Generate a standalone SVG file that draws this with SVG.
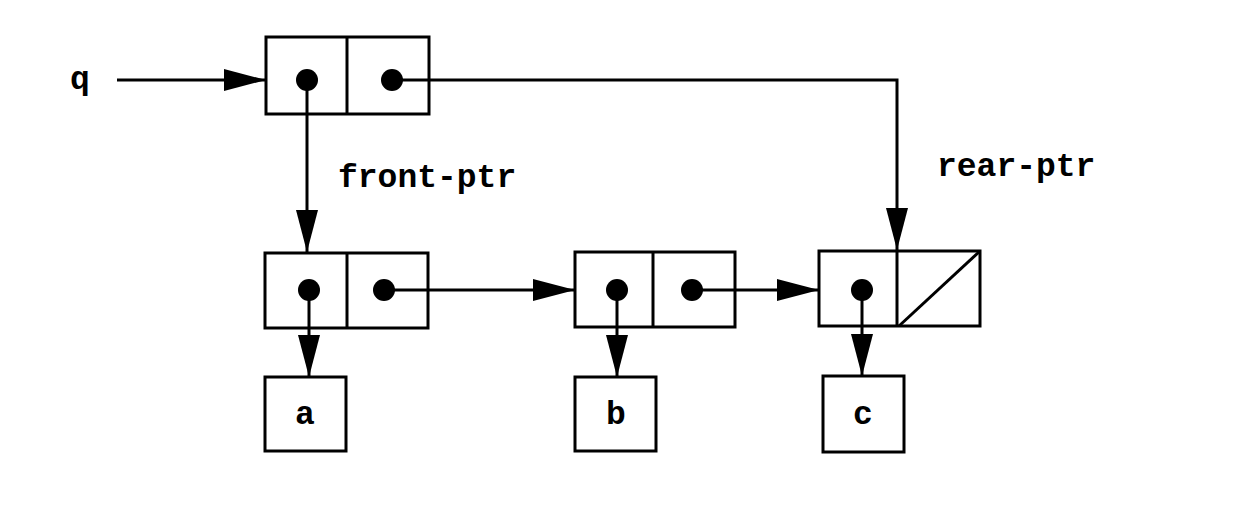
<svg xmlns="http://www.w3.org/2000/svg" width="1236" height="508" viewBox="0 0 1236 508">
<style>
.box{fill:none;stroke:#000;stroke-width:3}
.ln{fill:none;stroke:#000;stroke-width:3}
.dot{fill:#000}
.t{font-family:"Liberation Mono","Courier New",monospace;font-weight:bold;font-size:33px;fill:#000}
</style>
<defs>
<marker id="ah" markerUnits="userSpaceOnUse" markerWidth="44" markerHeight="24" refX="42" refY="11" orient="auto">
<path d="M0,0 L42,11 L0,22 z" fill="#000"/>
</marker>
</defs>
<rect width="1236" height="508" fill="#fff"/>
<g id="label-q"><text class="t" x="70" y="89">q</text></g>
<g id="pair-q">
<rect class="box" x="266" y="37" width="163" height="77"/>
<line class="ln" x1="347" y1="37" x2="347" y2="114"/>
<circle class="dot" cx="307" cy="80" r="11"/>
<circle class="dot" cx="392" cy="80" r="11"/>
</g>
<g id="pair-1">
<rect class="box" x="265" y="253" width="163" height="75"/>
<line class="ln" x1="347" y1="253" x2="347" y2="328"/>
<circle class="dot" cx="309" cy="290" r="11"/>
<circle class="dot" cx="384" cy="290" r="11"/>
</g>
<g id="pair-2">
<rect class="box" x="575" y="252" width="160" height="75"/>
<line class="ln" x1="653" y1="252" x2="653" y2="327"/>
<circle class="dot" cx="617" cy="290" r="11"/>
<circle class="dot" cx="692" cy="290" r="11"/>
</g>
<g id="pair-3">
<rect class="box" x="819" y="251" width="161" height="75"/>
<line class="ln" x1="897" y1="251" x2="897" y2="326"/>
<line class="ln" x1="899" y1="326" x2="980" y2="251"/>
<circle class="dot" cx="862" cy="290" r="11"/>
</g>
<g id="box-a"><rect class="box" x="265" y="377" width="81" height="74"/><text class="t" x="305" y="424" text-anchor="middle">a</text></g>
<g id="box-b"><rect class="box" x="575" y="377" width="81" height="74"/><text class="t" x="616" y="424" text-anchor="middle">b</text></g>
<g id="box-c"><rect class="box" x="823" y="376" width="81" height="76"/><text class="t" x="863" y="424" text-anchor="middle">c</text></g>
<g id="labels">
<text class="t" x="338" y="187">front-ptr</text>
<text class="t" x="937" y="176">rear-ptr</text>
</g>
<g id="connectors">
<line class="ln" x1="117" y1="80" x2="266" y2="80" marker-end="url(#ah)"/>
<line class="ln" x1="307" y1="80" x2="307" y2="252" marker-end="url(#ah)"/>
<polyline class="ln" points="392,80 897,80 897,250" marker-end="url(#ah)"/>
<line class="ln" x1="384" y1="290" x2="575" y2="290" marker-end="url(#ah)"/>
<line class="ln" x1="692" y1="290" x2="819" y2="290" marker-end="url(#ah)"/>
<line class="ln" x1="309" y1="290" x2="309" y2="377" marker-end="url(#ah)"/>
<line class="ln" x1="617" y1="290" x2="617" y2="377" marker-end="url(#ah)"/>
<line class="ln" x1="862" y1="290" x2="862" y2="376" marker-end="url(#ah)"/>
</g>
</svg>
